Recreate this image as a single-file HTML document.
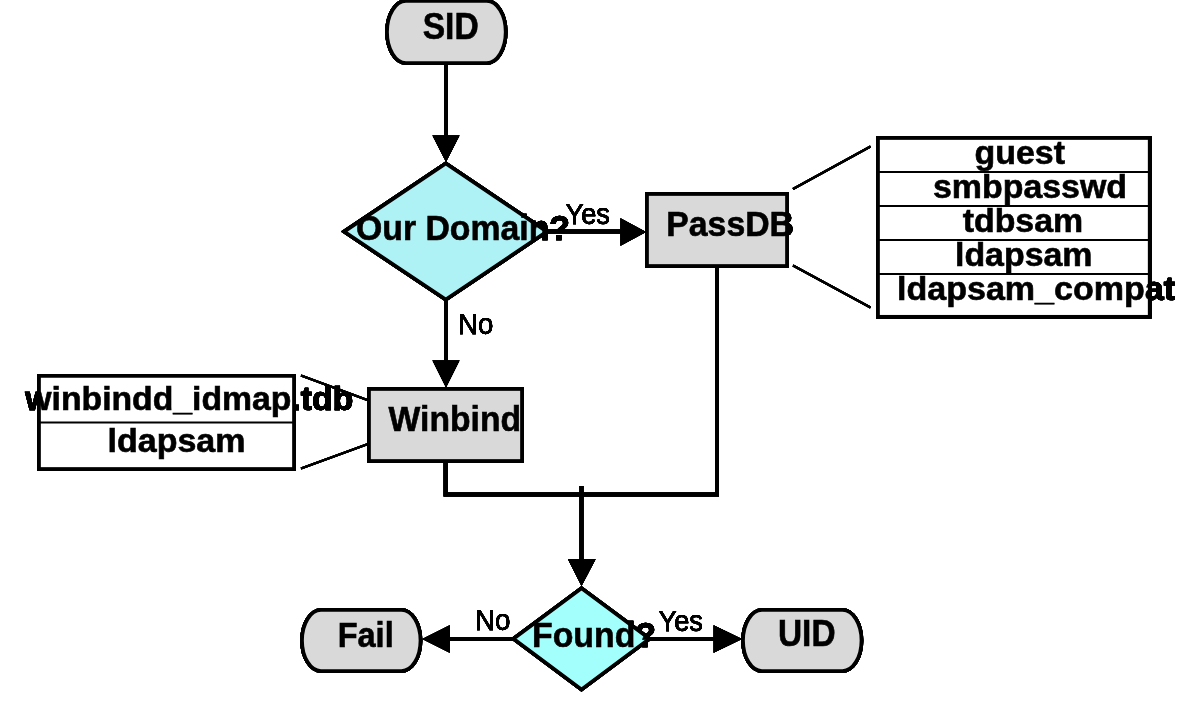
<!DOCTYPE html>
<html>
<head>
<meta charset="utf-8">
<title>SID to UID flow</title>
<style>
  html, body { margin: 0; padding: 0; background: #ffffff; }
  body { width: 1178px; height: 723px; overflow: hidden; font-family: "Liberation Sans", sans-serif; }
  svg { display: block; }
  text { font-family: "Liberation Sans", sans-serif; fill: #000; }
  .b { font-weight: bold; font-size: 36px; stroke: #000; stroke-width: 0.6; }
  .bl { font-size: 33px; }
  .bm { font-size: 35px; }
  .r { font-weight: normal; font-size: 30px; stroke: #000; stroke-width: 0.25; }
  .sh { stroke: #000; stroke-width: 3.7; stroke-linejoin: miter; }
  .thin { stroke: #000; stroke-width: 1.9; fill: none; }
  .call { stroke: #000; stroke-width: 2; fill: none; }
  .ln { stroke: #000; stroke-width: 4; fill: none; }
  .hd { fill: #000; stroke: none; }
</style>
</head>
<body>
<svg width="1178" height="723" viewBox="0 0 1178 723">
  <defs>
    <filter id="sat" filterUnits="userSpaceOnUse" x="0" y="0" width="1178" height="723" color-interpolation-filters="sRGB">
      <feComponentTransfer>
        <feFuncA type="table" tableValues="0 0.47 0.74 0.88 0.95 0.98 1 1 1 1 1"/>
      </feComponentTransfer>
    </filter>
  </defs>
  <rect x="0" y="0" width="1178" height="723" fill="#ffffff"/>

  <!-- layer 1: everything that sits on the white canvas (over-drawn / saturated look) -->
  <g filter="url(#sat)">
    <!-- connectors -->
    <line class="ln" x1="446" y1="63" x2="446" y2="137"/>
    <polygon class="hd" points="432.5,135.5 459.5,135.5 446,162"/>

    <line class="ln" x1="546" y1="231.6" x2="622" y2="231.6"/>
    <polygon class="hd" points="620.5,218.3 620.5,245.8 646,232"/>

    <line class="ln" x1="446" y1="300" x2="446" y2="362"/>
    <polygon class="hd" points="432.5,360.5 459.5,360.5 446,387.5"/>

    <polyline class="ln" points="445.6,461 445.6,494.5 717,494.5 717,266"/>
    <line class="ln" x1="581.5" y1="486" x2="581.5" y2="561"/>
    <polygon class="hd" points="568,559.3 595.6,559.3 581.5,586"/>

    <line class="ln" x1="448" y1="639" x2="516" y2="639"/>
    <polygon class="hd" points="449.7,625.2 449.7,652.8 422.3,639"/>
    <line class="ln" x1="647" y1="639" x2="715" y2="639"/>
    <polygon class="hd" points="713.6,625.2 713.6,652.8 742,639"/>

    <!-- callout lines -->
    <line class="call" x1="793" y1="189" x2="870.5" y2="146.5"/>
    <line class="call" x1="793" y1="265.5" x2="870.5" y2="307.5"/>
    <line class="call" x1="301" y1="375.5" x2="368" y2="400.3"/>
    <line class="call" x1="301" y1="468.5" x2="368" y2="444"/>

    <!-- outlines + overflow text copies -->
    <rect class="sh" fill="none" x="387" y="1" width="118.7" height="62" rx="19" ry="31"/>
    <polygon class="sh" fill="none" points="344.1,231.6 445.8,163.4 546.9,231.6 445.8,299.6"/>
    <rect class="sh" fill="none" x="647" y="194" width="140" height="72"/>
    <rect class="sh" fill="none" x="369" y="389" width="153" height="72"/>
    <polygon class="sh" fill="none" points="513.5,638.8 581.5,588.2 649.5,638.8 581.5,689.4"/>
    <rect class="sh" fill="none" x="302" y="610" width="118.5" height="61" rx="19" ry="30.5"/>
    <rect class="sh" fill="none" x="743" y="610" width="118.5" height="61" rx="19" ry="30.5"/>
    <rect class="sh" fill="none" x="878" y="138" width="271.7" height="178.8"/>
    <rect class="sh" fill="none" x="39" y="375.9" width="255" height="93.1"/>
    <text class="b" x="422.7" y="38.7" textLength="56" lengthAdjust="spacingAndGlyphs">SID</text>
    <text class="b bm" x="356" y="239.5" textLength="214" lengthAdjust="spacingAndGlyphs">Our Domain?</text>
    <text class="b bm" x="666.3" y="236" textLength="127.7" lengthAdjust="spacingAndGlyphs">PassDB</text>
    <text class="b bm" x="388.6" y="431" textLength="132.5" lengthAdjust="spacingAndGlyphs">Winbind</text>
    <text class="b bm" x="532" y="647" textLength="124" lengthAdjust="spacingAndGlyphs">Found?</text>
    <text class="b bm" x="337.7" y="646.8" textLength="56" lengthAdjust="spacingAndGlyphs">Fail</text>
    <text class="b" x="778" y="646.4" textLength="57.5" lengthAdjust="spacingAndGlyphs">UID</text>
    <text class="b bl" x="974.5" y="164" textLength="90.5" lengthAdjust="spacingAndGlyphs">guest</text>
    <text class="b bl" x="933" y="198" textLength="194" lengthAdjust="spacingAndGlyphs">smbpasswd</text>
    <text class="b bl" x="962.7" y="232" textLength="120.5" lengthAdjust="spacingAndGlyphs">tdbsam</text>
    <text class="b bl" x="955" y="265.5" textLength="137.5" lengthAdjust="spacingAndGlyphs">ldapsam</text>
    <text class="b bl" x="897" y="299.5" textLength="278" lengthAdjust="spacingAndGlyphs">ldapsam_compat</text>
    <text class="b bl" x="25.3" y="409.6" textLength="328" lengthAdjust="spacingAndGlyphs">winbindd_idmap.tdb</text>
    <text class="b bl" x="107.5" y="452" textLength="138" lengthAdjust="spacingAndGlyphs">ldapsam</text>
    <text class="r" x="565.5" y="223.5" textLength="44.5" lengthAdjust="spacingAndGlyphs">Yes</text>
    <text class="r" x="458" y="333.8" textLength="35.2" lengthAdjust="spacingAndGlyphs">No</text>
    <text class="r" x="475" y="630.2" textLength="35.5" lengthAdjust="spacingAndGlyphs">No</text>
    <text class="r" x="658.5" y="630.5" textLength="44.5" lengthAdjust="spacingAndGlyphs">Yes</text>
  </g>

  <!-- layer 2: filled shapes with normally anti-aliased contents -->
  <g>
    <rect class="sh" fill="#d9d9d9" x="387" y="1" width="118.7" height="62" rx="19" ry="31"/>
    <polygon class="sh" fill="#aef2f6" points="344.1,231.6 445.8,163.4 546.9,231.6 445.8,299.6"/>
    <rect class="sh" fill="#d9d9d9" x="647" y="194" width="140" height="72"/>
    <rect class="sh" fill="#d9d9d9" x="369" y="389" width="153" height="72"/>
    <polygon class="sh" fill="#a3fffc" points="513.5,638.8 581.5,588.2 649.5,638.8 581.5,689.4"/>
    <rect class="sh" fill="#d9d9d9" x="302" y="610" width="118.5" height="61" rx="19" ry="30.5"/>
    <rect class="sh" fill="#d9d9d9" x="743" y="610" width="118.5" height="61" rx="19" ry="30.5"/>
    <rect class="sh" fill="#ffffff" x="878" y="138" width="271.7" height="178.8"/>
    <rect class="sh" fill="#ffffff" x="39" y="375.9" width="255" height="93.1"/>
    <line class="thin" x1="878" y1="172" x2="1149.7" y2="172"/>
    <line class="thin" x1="878" y1="206" x2="1149.7" y2="206"/>
    <line class="thin" x1="878" y1="240" x2="1149.7" y2="240"/>
    <line class="thin" x1="878" y1="274" x2="1149.7" y2="274"/>
    <line class="thin" x1="39" y1="422.5" x2="294" y2="422.5"/>
  </g>
  <g style="filter:grayscale(1)">
    <text class="b" x="422.7" y="38.7" textLength="56" lengthAdjust="spacingAndGlyphs">SID</text>
    <text class="b bm" x="356" y="239.5" textLength="214" lengthAdjust="spacingAndGlyphs">Our Domain?</text>
    <text class="b bm" x="666.3" y="236" textLength="127.7" lengthAdjust="spacingAndGlyphs">PassDB</text>
    <text class="b bm" x="388.6" y="431" textLength="132.5" lengthAdjust="spacingAndGlyphs">Winbind</text>
    <text class="b bm" x="532" y="647" textLength="124" lengthAdjust="spacingAndGlyphs">Found?</text>
    <text class="b bm" x="337.7" y="646.8" textLength="56" lengthAdjust="spacingAndGlyphs">Fail</text>
    <text class="b" x="778" y="646.4" textLength="57.5" lengthAdjust="spacingAndGlyphs">UID</text>
    <text class="b bl" x="974.5" y="164" textLength="90.5" lengthAdjust="spacingAndGlyphs">guest</text>
    <text class="b bl" x="933" y="198" textLength="194" lengthAdjust="spacingAndGlyphs">smbpasswd</text>
    <text class="b bl" x="962.7" y="232" textLength="120.5" lengthAdjust="spacingAndGlyphs">tdbsam</text>
    <text class="b bl" x="955" y="265.5" textLength="137.5" lengthAdjust="spacingAndGlyphs">ldapsam</text>
    <text class="b bl" x="897" y="299.5" textLength="278" lengthAdjust="spacingAndGlyphs">ldapsam_compat</text>
    <text class="b bl" x="25.3" y="409.6" textLength="328" lengthAdjust="spacingAndGlyphs">winbindd_idmap.tdb</text>
    <text class="b bl" x="107.5" y="452" textLength="138" lengthAdjust="spacingAndGlyphs">ldapsam</text>
  </g>
</svg>
</body>
</html>
